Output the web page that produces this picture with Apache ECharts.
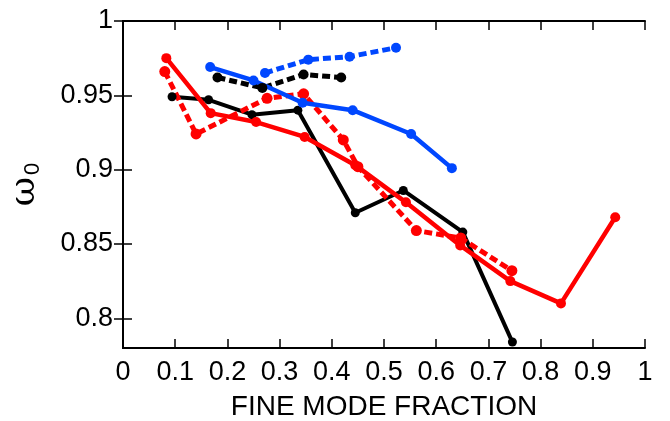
<!DOCTYPE html>
<html>
<head>
<meta charset="utf-8">
<script src="https://cdn.jsdelivr.net/npm/echarts@6/dist/echarts.min.js"></script>
<style>
  html, body { margin: 0; padding: 0; background: #fff; }
  #chart { width: 670px; height: 421px; }
</style>
</head>
<body>
<div id="chart"></div>
<script>
// fine mode fraction (x) and w0 (y) for each curve
var redSolidX = [0.083, 0.168, 0.255, 0.348, 0.445, 0.542, 0.646, 0.742, 0.839, 0.943];
var redSolidY = [0.975, 0.938, 0.932, 0.922, 0.903, 0.878, 0.849, 0.825, 0.810, 0.868];

var redDashX = [0.080, 0.140, 0.276, 0.346, 0.422, 0.450, 0.562, 0.647, 0.745];
var redDashY = [0.966, 0.924, 0.948, 0.951, 0.920, 0.902, 0.859, 0.854, 0.832];

var blackSolidX = [0.094, 0.164, 0.247, 0.335, 0.445, 0.537, 0.651, 0.746];
var blackSolidY = [0.949, 0.947, 0.937, 0.940, 0.871, 0.886, 0.858, 0.784];

var blackDashX = [0.181, 0.267, 0.346, 0.418];
var blackDashY = [0.962, 0.955, 0.964, 0.962];

var blueSolidX = [0.167, 0.250, 0.344, 0.440, 0.552, 0.630];
var blueSolidY = [0.969, 0.960, 0.945, 0.940, 0.924, 0.901];

var blueDashX = [0.272, 0.355, 0.434, 0.523];
var blueDashY = [0.965, 0.974, 0.976, 0.982];

var yTicks = [0.8, 0.85, 0.9, 0.95, 1];

function pairs(xs, ys) {
  return xs.map(function (x, i) { return [x, ys[i]]; });
}

var font = 'Liberation Sans, Arial, sans-serif';

function line(name, xs, ys, color, dashed, width, size) {
  return {
    name: name,
    type: 'line',
    data: pairs(xs, ys),
    symbol: 'circle',
    symbolSize: size,
    itemStyle: { color: color },
    lineStyle: { color: color, width: width, type: dashed ? [8, 4] : 'solid', cap: 'butt' },
    animation: false
  };
}

var myChart = echarts.init(document.getElementById('chart'));
var option = {
  backgroundColor: '#fff',
  // keep the plot box fixed, labels may sit outside it
  grid: { left: 123, right: 25, top: 21, bottom: 73, outerBoundsMode: 'none', containLabel: false },
  xAxis: [{
    type: 'value',
    min: 0, max: 1, interval: 0.1,
    name: 'FINE MODE FRACTION',
    nameLocation: 'middle',
    nameGap: 45,
    nameTextStyle: { fontFamily: font, fontSize: 28, color: '#000' },
    axisLine: { onZero: false, lineStyle: { color: '#000', width: 2 } },
    axisTick: { inside: true, length: 9, lineStyle: { color: '#000', width: 1.5 } },
    axisLabel: { fontFamily: font, fontSize: 27, color: '#000', margin: 11 },
    splitLine: { show: false }
  }, {
    type: 'value',
    position: 'top',
    min: 0, max: 1, interval: 0.1,
    axisLine: { lineStyle: { color: '#000', width: 2 } },
    axisTick: { inside: true, length: 9, lineStyle: { color: '#000', width: 1.5 } },
    axisLabel: { show: false },
    splitLine: { show: false }
  }],
  yAxis: [{
    type: 'value',
    min: 0.78, max: 1,
    name: '{w|ω}{s|0}',
    nameLocation: 'middle',
    nameRotate: 90,
    nameGap: 79,
    nameTextStyle: {
      rich: {
        w: { fontFamily: 'DejaVu Serif, serif', fontSize: 36, color: '#000' },
        s: { fontFamily: font, fontSize: 22, color: '#000', verticalAlign: 'bottom', padding: [16, 0, 0, 2] }
      }
    },
    axisLine: { show: true, lineStyle: { color: '#000', width: 2 } },
    axisTick: { show: true, inside: true, length: 9, customValues: yTicks, lineStyle: { color: '#000', width: 1.5 } },
    axisLabel: { fontFamily: font, fontSize: 27, color: '#000', margin: 10, customValues: yTicks },
    splitLine: { show: false }
  }, {
    type: 'value',
    position: 'right',
    min: 0.78, max: 1,
    axisLine: { show: true, lineStyle: { color: '#000', width: 2 } },
    axisTick: { show: true, inside: true, length: 9, customValues: yTicks, lineStyle: { color: '#000', width: 1.5 } },
    axisLabel: { show: false },
    splitLine: { show: false }
  }],
  series: [
    line('black solid', blackSolidX, blackSolidY, '#000000', false, 4, 9),
    line('black dashed', blackDashX, blackDashY, '#000000', true, 5, 10),
    line('red dashed', redDashX, redDashY, '#ff0000', true, 5, 11),
    line('red solid', redSolidX, redSolidY, '#ff0000', false, 4.5, 10),
    line('blue solid', blueSolidX, blueSolidY, '#0047ff', false, 4.5, 10),
    line('blue dashed', blueDashX, blueDashY, '#0047ff', true, 5, 10)
  ]
};
myChart.setOption(option);
</script>
</body>
</html>
